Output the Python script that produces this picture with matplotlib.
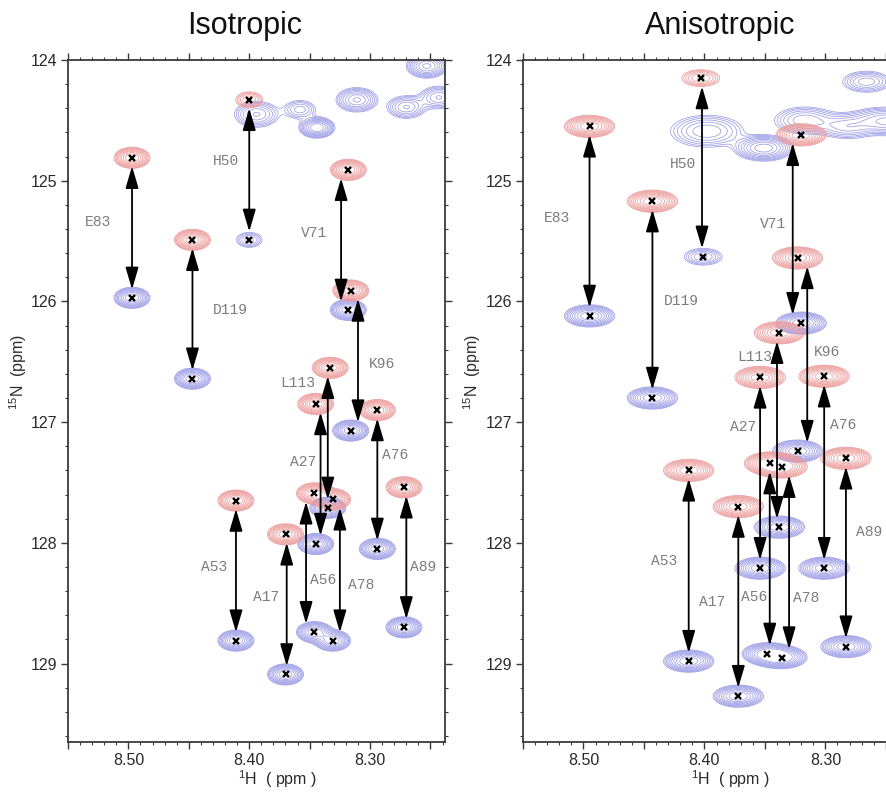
import numpy as np
import matplotlib
matplotlib.use("Agg")
import matplotlib.pyplot as plt
from matplotlib.ticker import MultipleLocator, FuncFormatter

plt.rcParams["font.family"] = ["Liberation Sans", "DejaVu Sans"]
plt.rcParams["mathtext.fontset"] = "custom"
plt.rcParams["mathtext.rm"] = "Liberation Sans"
plt.rcParams["mathtext.it"] = "Liberation Sans:italic"

# ---- assigned residues (same order in both spectra) ----
residues = ["E83", "H50", "D119", "V71", "K96", "L113", "A27",
            "A76", "A89", "A53", "A56", "A17", "A78"]

# Isotropic spectrum: upfield (red) and downfield (blue) components, ppm
iso_red_h = [8.497, 8.400, 8.447, 8.318, 8.316, 8.333, 8.345, 8.294, 8.272, 8.411, 8.346, 8.370, 8.331]
iso_red_n = [124.81, 124.33, 125.49, 124.91, 125.91, 126.55, 126.85, 126.90, 127.54, 127.65, 127.59, 127.93, 127.64]
iso_blue_h = [8.497, 8.400, 8.447, 8.318, 8.316, 8.335, 8.345, 8.294, 8.272, 8.411, 8.346, 8.370, 8.331]
iso_blue_n = [125.97, 125.49, 126.64, 126.07, 127.07, 127.71, 128.01, 128.05, 128.70, 128.81, 128.74, 129.09, 128.81]
iso_red_amp = [1.0, 0.35, 1.0, 1.0, 1.0, 1.0, 1.0, 1.0, 1.0, 1.0, 1.0, 1.0, 1.0]
iso_blue_amp = [1.0, 0.3, 1.0, 1.0, 1.0, 1.0, 1.0, 1.0, 1.0, 1.0, 1.0, 1.0, 1.0]
iso_arrow_h = [8.497, 8.400, 8.447, 8.324, 8.310, 8.335, 8.341, 8.294, 8.270, 8.411, 8.353, 8.369, 8.325]
iso_label_h = [8.525, 8.419, 8.416, 8.346, 8.290, 8.360, 8.355, 8.279, 8.256, 8.429, 8.339, 8.386, 8.307]
iso_label_n = [125.34, 124.84, 126.07, 125.43, 126.52, 126.68, 127.33, 127.27, 128.20, 128.20, 128.31, 128.45, 128.35]
# unassigned peaks in the isotropic spectrum
iso_extra_h = [8.394, 8.358, 8.344, 8.311, 8.270, 8.243, 8.253]
iso_extra_n = [124.45, 124.41, 124.56, 124.33, 124.39, 124.31, 124.05]
iso_extra_amp = [0.45, 0.3, 1.0, 0.6, 0.45, 0.45, 0.8]
iso_extra_size = [1.5, 1.2, 1.0, 1.3, 1.3, 1.3, 1.2]

# Anisotropic spectrum
ani_red_h = [8.495, 8.403, 8.443, 8.320, 8.323, 8.338, 8.354, 8.301, 8.283, 8.413, 8.346, 8.372, 8.336]
ani_red_n = [124.55, 124.15, 125.17, 124.62, 125.64, 126.26, 126.63, 126.62, 127.30, 127.40, 127.34, 127.70, 127.37]
ani_blue_h = [8.495, 8.401, 8.443, 8.320, 8.323, 8.338, 8.354, 8.301, 8.283, 8.413, 8.348, 8.372, 8.336]
ani_blue_n = [126.12, 125.63, 126.80, 126.18, 127.24, 127.87, 128.21, 128.21, 128.86, 128.98, 128.92, 129.27, 128.95]
ani_red_amp = [1.0, 0.35, 1.0, 1.0, 1.0, 1.0, 1.0, 1.0, 1.0, 1.0, 1.0, 1.0, 1.0]
ani_blue_amp = [1.0, 0.35, 1.0, 1.0, 1.0, 1.0, 1.0, 1.0, 1.0, 1.0, 1.0, 1.0, 1.0]
ani_arrow_h = [8.495, 8.402, 8.443, 8.327, 8.315, 8.340, 8.354, 8.301, 8.283, 8.413, 8.346, 8.372, 8.330]
ani_label_h = [8.522, 8.418, 8.419, 8.343, 8.299, 8.358, 8.368, 8.285, 8.264, 8.433, 8.359, 8.394, 8.316]
ani_label_n = [125.31, 124.86, 126.00, 125.36, 126.42, 126.46, 127.04, 127.02, 127.91, 128.15, 128.45, 128.49, 128.46]
ani_extra_h = [8.266, 8.398, 8.351, 8.317, 8.282, 8.255, 8.236]
ani_extra_n = [124.18, 124.59, 124.73, 124.50, 124.55, 124.50, 124.52]
ani_extra_amp = [0.4, 0.42, 0.9, 0.42, 0.38, 0.42, 0.42]
ani_extra_size = [1.2, 1.8, 1.2, 1.5, 1.4, 1.4, 1.4]

RED = "#ec9a9a"
BLUE = "#9c9ce6"
FRAME = "#3a3a3a"


def spectrum(hh, nn, hs, ns, amps, sizes, sig_h, sig_n):
    z = np.zeros_like(hh)
    for h, n, a, s in zip(hs, ns, amps, sizes):
        z += a * np.exp(-0.5 * ((hh - h) / (sig_h * s)) ** 2
                        - 0.5 * ((nn - n) / (sig_n * s)) ** 2)
    return z


def draw_panel(ax, xlim, red_h, red_n, red_amp, blue_h, blue_n, blue_amp,
               arrow_h, label_h, label_n, extra_h, extra_n, extra_amp,
               extra_size, sig_h, sig_n, right_spine=True):
    hg = np.linspace(8.58, 8.20, 900)
    ng = np.linspace(123.7, 129.9, 900)
    hh, nn = np.meshgrid(hg, ng)
    levels = 0.09 * 1.3 ** np.arange(9)

    zb = spectrum(hh, nn, blue_h, blue_n, blue_amp, [1.0] * len(blue_h), sig_h, sig_n)
    zb += spectrum(hh, nn, extra_h, extra_n, extra_amp, extra_size, sig_h, sig_n)
    ax.contour(hh, nn, zb, levels=levels, colors=BLUE, linewidths=0.55)
    zr = spectrum(hh, nn, red_h, red_n, red_amp, [1.0] * len(red_h), sig_h, sig_n)
    ax.contour(hh, nn, zr, levels=levels, colors=RED, linewidths=0.55)

    for ah, rn, bn in zip(arrow_h, red_n, blue_n):
        ax.annotate("", xy=(ah, bn), xytext=(ah, rn),
                    arrowprops=dict(arrowstyle="<|-|>,head_length=0.75,head_width=0.22",
                                    mutation_scale=18, lw=1.3, color="black",
                                    shrinkA=6, shrinkB=6))
    ax.plot(red_h, red_n, "x", color="black", ms=5, mew=1.7, ls="none")
    ax.plot(blue_h, blue_n, "x", color="black", ms=5, mew=1.7, ls="none")
    for name, lh, ln in zip(residues, label_h, label_n):
        ax.text(lh, ln, name, family="Liberation Mono", fontsize=10.5,
                color="#7c7c7c", ha="center", va="center")

    ax.set_xlim(*xlim)
    ax.set_ylim(129.65, 124.0)
    ax.xaxis.set_major_locator(MultipleLocator(0.05))
    ax.xaxis.set_minor_locator(MultipleLocator(0.01))
    ax.yaxis.set_major_locator(MultipleLocator(1))
    ax.yaxis.set_minor_locator(MultipleLocator(0.2))
    ax.xaxis.set_major_formatter(FuncFormatter(
        lambda v, p: f"{v:.2f}" if abs(v * 10 - round(v * 10)) < 1e-6 else ""))
    ax.yaxis.set_major_formatter(FuncFormatter(lambda v, p: f"{v:.0f}"))
    ax.tick_params(which="both", direction="out", top=True, right=right_spine,
                   color=FRAME, labelcolor="#2a2a2a", labelsize=11.5)
    ax.tick_params(which="major", length=5, width=1.0, pad=3)
    ax.tick_params(which="minor", length=2.5, width=0.8)
    for side, sp in ax.spines.items():
        sp.set_color(FRAME)
        sp.set_linewidth(1.3)
    if not right_spine:
        ax.spines["right"].set_visible(False)


W, H = 887, 794
fig = plt.figure(figsize=(W / 100, H / 100), dpi=100)
ax1 = fig.add_axes([68 / W, (H - 742) / H, 377 / W, 682 / H])
ax2 = fig.add_axes([523 / W, (H - 742) / H, 381 / W, 682 / H])

draw_panel(ax1, (8.55, 8.238), iso_red_h, iso_red_n, iso_red_amp,
           iso_blue_h, iso_blue_n, iso_blue_amp, iso_arrow_h,
           iso_label_h, iso_label_n, iso_extra_h, iso_extra_n,
           iso_extra_amp, iso_extra_size, 0.0068, 0.040)
draw_panel(ax2, (8.55, 8.235), ani_red_h, ani_red_n, ani_red_amp,
           ani_blue_h, ani_blue_n, ani_blue_amp, ani_arrow_h,
           ani_label_h, ani_label_n, ani_extra_h, ani_extra_n,
           ani_extra_amp, ani_extra_size, 0.0095, 0.042, right_spine=False)

fig.text(245 / W, 1 - 26 / H, "Isotropic", fontsize=22, ha="center", va="center", color="#111111")
fig.text(720 / W, 1 - 26 / H, "Anisotropic", fontsize=22, ha="center", va="center", color="#111111")
fig.text(277 / W, 1 - 779 / H, r"$^{1}$H  ( ppm )", fontsize=11.5, ha="center", va="center", color="#2a2a2a")
fig.text(730 / W, 1 - 779 / H, r"$^{1}$H  ( ppm )", fontsize=11.5, ha="center", va="center", color="#2a2a2a")
fig.text(18 / W, 1 - 372 / H, r"$^{15}$N  (ppm)", fontsize=11.5, rotation=90, ha="center", va="center", color="#2a2a2a")
fig.text(472 / W, 1 - 372 / H, r"$^{15}$N  (ppm)", fontsize=11.5, rotation=90, ha="center", va="center", color="#2a2a2a")

fig.savefig("out.png", dpi=100)
